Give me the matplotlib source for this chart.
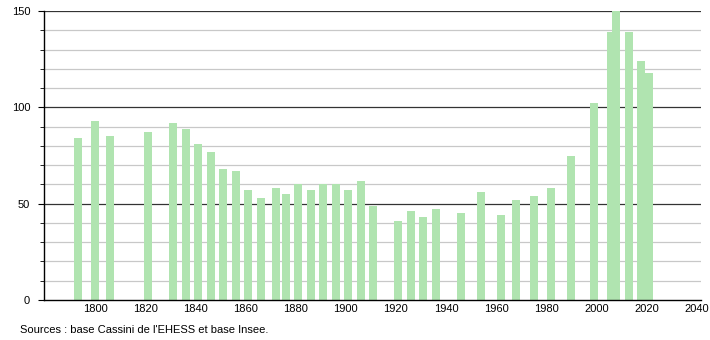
import numpy as np
import matplotlib.pyplot as plt

# census years and population
years = [1793, 1800, 1806, 1821, 1831, 1836, 1841, 1846, 1851, 1856,
         1861, 1866, 1872, 1876, 1881, 1886, 1891, 1896, 1901, 1906,
         1911, 1921, 1926, 1931, 1936, 1946, 1954, 1962, 1968, 1975,
         1982, 1990, 1999, 2006, 2008, 2013, 2018, 2021]
population = [84, 93, 85, 87, 92, 89, 81, 77, 68, 67,
              57, 53, 58, 55, 60, 57, 60, 60, 57, 62,
              49, 41, 46, 43, 47, 45, 56, 44, 52, 54,
              58, 75, 102, 139, 150, 139, 124, 118]
xticks = [1800, 1820, 1840, 1860, 1880, 1900, 1920, 1940, 1960, 1980, 2000, 2020, 2040]

plt.rcParams['font.family'] = ['Liberation Sans', 'DejaVu Sans']

fig = plt.figure(figsize=(7.1, 3.4), dpi=100)
ax = fig.add_axes([0.062, 0.1176, 0.925, 0.85])

ax.bar(years, population, width=3.2, color='#b0e4b0', zorder=2)

ax.set_xlim(1779.5, 2041.7)
ax.set_ylim(0, 150)
ax.set_yticks([0, 50, 100, 150])
ax.set_yticks(np.arange(0, 151, 10), minor=True)
ax.set_xticks(xticks)

# grid lines
for v in range(10, 151, 10):
    if v % 50 == 0:
        ax.axhline(v, color='#333333', lw=0.9, zorder=1)
    else:
        ax.axhline(v, color='#c8c8c8', lw=0.9, zorder=1)

for s in ['top', 'right']:
    ax.spines[s].set_visible(False)
ax.spines['left'].set_color('black')
ax.spines['bottom'].set_color('black')
ax.spines['left'].set_linewidth(1.0)
ax.spines['bottom'].set_linewidth(1.0)

ax.tick_params(axis='x', length=0, labelsize=8, pad=3)
ax.tick_params(axis='y', which='major', length=4, labelsize=8, pad=6)
ax.tick_params(axis='y', which='minor', length=3)

fig.text(0.028, 0.022, "Sources : base Cassini de l'EHESS et base Insee.", fontsize=8)

plt.savefig("out.png", dpi=100)
